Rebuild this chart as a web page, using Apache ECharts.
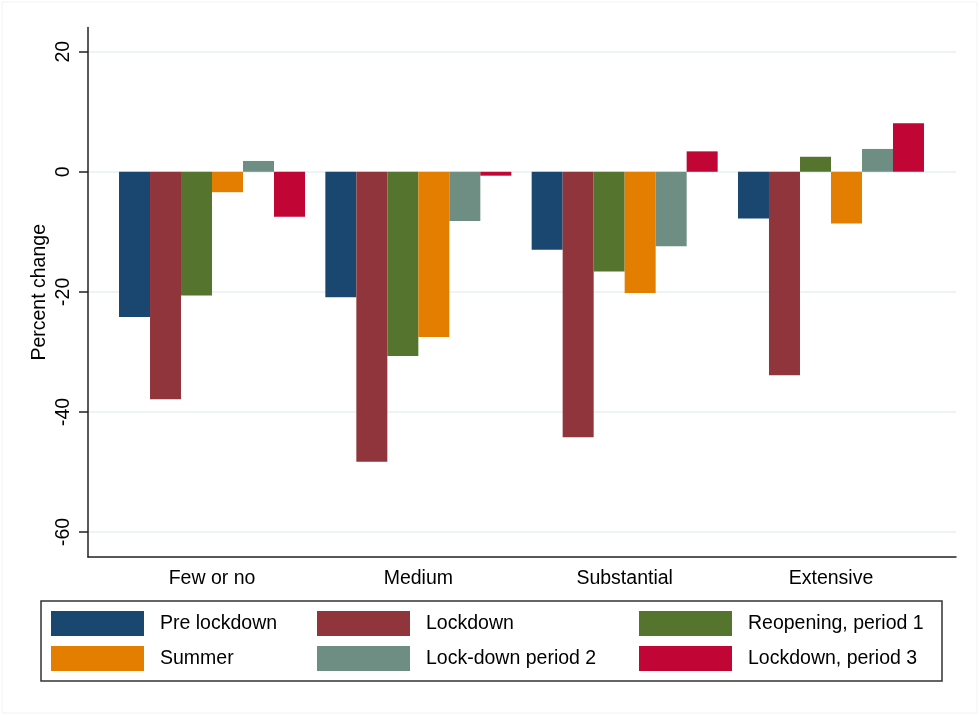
<!DOCTYPE html>
<html>
<head>
<meta charset="utf-8">
<script src="https://cdn.jsdelivr.net/npm/echarts@6/dist/echarts.min.js"></script>
<style>
  html, body { margin: 0; padding: 0; background: #fff; }
  #chart { width: 979px; height: 715px; }
</style>
</head>
<body>
<div id="chart"></div>
<script>
// categories and values (percent change)
const categories = ["Few or no", "Medium", "Substantial", "Extensive"];
const seriesNames = ["Pre lockdown", "Lockdown", "Reopening, period 1", "Summer", "Lock-down period 2", "Lockdown, period 3"];
const preLockdown = [-24.2, -20.9, -13.0, -7.8];
const lockdown = [-37.9, -48.3, -44.2, -33.9];
const reopening1 = [-20.6, -30.7, -16.6, 2.5];
const summer = [-3.4, -27.5, -20.2, -8.6];
const lockdown2 = [1.8, -8.2, -12.4, 3.8];
const lockdown3 = [-7.5, -0.65, 3.4, 8.1];
const yTicks = [-60, -40, -20, 0, 20];

const colors = ["#1a476f", "#90353b", "#55752f", "#e37e00", "#6e8e84", "#c10534"];
const font = "'Liberation Sans', Arial, sans-serif";
const fs = 19.5;

const myChart = echarts.init(document.getElementById("chart"));

const seriesData = [preLockdown, lockdown, reopening1, summer, lockdown2, lockdown3];

function getSeries() {
  return seriesData.map((data, i) => ({
    name: seriesNames[i],
    type: "bar",
    xAxisIndex: 2,
    yAxisIndex: 2,
    data: data,
    barWidth: 31,
    barGap: "0%",
    itemStyle: { color: colors[i] },
  }));
}

function legendCol(names, left) {
  return {
    orient: "vertical",
    left: left,
    top: 611,
    padding: 0,
    itemWidth: 93,
    itemHeight: 25,
    itemGap: 10,
    icon: "rect",
    data: names,
    textStyle: {
      fontFamily: font,
      fontSize: fs,
      color: "#000",
      padding: [0, 0, 0, 11],
    },
  };
}

const option = {
  backgroundColor: "#fff",
  animation: false,
  color: colors,
  grid: [
    // ticks, labels, grid lines
    { left: 88, top: 51.7, width: 868, height: 480.3 },
    // axis lines
    { left: 88, top: 27.6, width: 868, height: 529.4 },
    // bars
    { left: 108.85, top: 51.7, width: 825.3, height: 480.3 },
  ],
  xAxis: [
    { gridIndex: 0, type: "category", data: categories, show: false },
    {
      gridIndex: 1,
      type: "value",
      min: 0,
      max: 1,
      axisLine: { show: true, onZero: false, lineStyle: { color: "#222", width: 1.5 } },
      axisTick: { show: false },
      axisLabel: { show: false },
      splitLine: { show: false },
    },
    {
      gridIndex: 2,
      type: "category",
      data: categories,
      axisLine: { show: false, onZero: false },
      axisTick: { show: false },
      axisLabel: {
        margin: 37,
        fontFamily: font,
        fontSize: fs,
        color: "#000",
      },
    },
  ],
  yAxis: [
    {
      gridIndex: 0,
      type: "value",
      min: yTicks[0],
      max: yTicks[yTicks.length - 1],
      interval: 20,
      axisLine: { show: false },
      axisTick: { show: true, length: 9, lineStyle: { color: "#222", width: 1.5 } },
      axisLabel: {
        rotate: 90,
        margin: 14,
        fontFamily: font,
        fontSize: fs,
        color: "#000",
      },
      splitLine: { show: true, lineStyle: { color: "#e8f0f3", width: 1.5 } },
    },
    {
      gridIndex: 1,
      type: "value",
      min: 0,
      max: 1,
      name: "Percent change",
      nameLocation: "middle",
      nameGap: 38,
      nameRotate: 90,
      nameTextStyle: { fontFamily: font, fontSize: fs, color: "#000" },
      axisLine: { show: true, onZero: false, lineStyle: { color: "#222", width: 1.5 } },
      axisTick: { show: false },
      axisLabel: { show: false },
      splitLine: { show: false },
    },
    {
      gridIndex: 2,
      type: "value",
      min: yTicks[0],
      max: yTicks[yTicks.length - 1],
      show: false,
    },
  ],
  legend: [
    legendCol([seriesNames[0], seriesNames[3]], 51),
    legendCol([seriesNames[1], seriesNames[4]], 317),
    legendCol([seriesNames[2], seriesNames[5]], 639),
  ],
  graphic: [
    {
      type: "rect",
      shape: { x: 41, y: 601, width: 901, height: 80 },
      style: { fill: "none", stroke: "#333", lineWidth: 1.5 },
      silent: true,
    },
    {
      type: "rect",
      shape: { x: 2, y: 2, width: 975, height: 711 },
      style: { fill: "none", stroke: "#eef3f6", lineWidth: 1 },
      silent: true,
      z: -1,
    },
  ],
  series: getSeries(),
};

myChart.setOption(option);
window.addEventListener("resize", () => {
  myChart.resize();
});
</script>
</body>
</html>
